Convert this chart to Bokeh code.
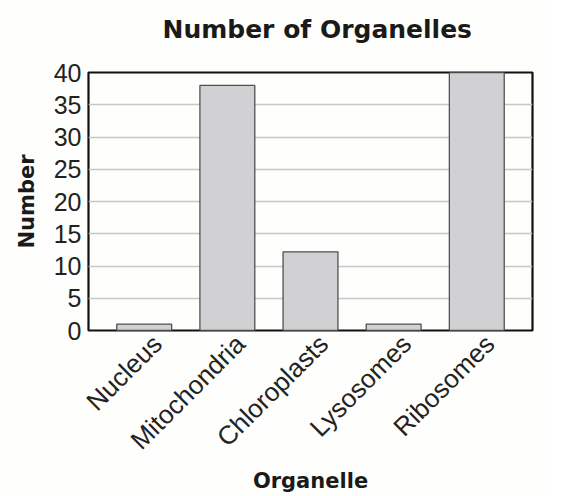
from bokeh.plotting import figure
from bokeh.models import Range1d, ColumnDataSource, FixedTicker, LinearAxis
from bokeh.embed import file_html
from bokeh.resources import INLINE
import math

categories = ["Nucleus", "Mitochondria", "Chloroplasts", "Lysosomes", "Ribosomes"]
counts = [1, 38, 12.2, 1, 40]
y_ticks = [0, 5, 10, 15, 20, 25, 30, 35, 40]
chart_title = "Number of Organelles"

idx = list(range(len(categories)))
src = ColumnDataSource(dict(pos=idx, cat=categories, n=counts))

PAD = 0.67      # distance from outer bar centres to the frame edge (category units)
SHIFT = 0.157   # rightward nudge of rotated category labels (category units)

BG = "#fefefc"
p = figure(
    x_range=Range1d(-PAD, len(categories) - 1 + PAD),
    y_range=Range1d(0, 40),
    frame_width=444, frame_height=258,
    min_border_left=88, min_border_right=19, min_border_top=72, min_border_bottom=150,
    output_backend="svg", toolbar_location=None,
    title=chart_title + "\n",   # blank second line lifts the title away from the frame
    background_fill_color=BG, border_fill_color=BG,
)

p.vbar(x="pos", top="n", width=0.66, source=src,
       fill_color="#d1d1d3", line_color="#505050", line_width=1.3)

p.title.text_font = "DejaVu Sans"
p.title.text_font_style = "bold"
p.title.text_font_size = "25px"
p.title.text_color = "#1a1a1a"
p.title.align = "left"
p.title.offset = 74
p.title.vertical_align = "bottom"
p.title.standoff = 0

p.outline_line_color = "#111111"
p.outline_line_width = 2.2

p.xgrid.grid_line_color = None
p.ygrid.grid_line_color = "#c6c6c6"
p.ygrid.grid_line_width = 1.6
p.yaxis.ticker = FixedTicker(ticks=y_ticks)
p.xaxis.visible = False

# label axis: index positions, nudged right like the original's rotated labels
p.extra_x_ranges = {"lab": Range1d(-PAD - SHIFT, len(categories) - 1 + PAD - SHIFT)}
lab_axis = LinearAxis(x_range_name="lab", ticker=FixedTicker(ticks=idx),
                      major_label_overrides={i: c for i, c in zip(idx, categories)})
p.add_layout(lab_axis, "below")

for ax in (lab_axis, p.yaxis[0]):
    ax.axis_line_color = None
    ax.major_tick_line_color = None
    ax.minor_tick_line_color = None
    ax.major_tick_in = 0
    ax.major_tick_out = 0
    ax.minor_tick_out = 0
    ax.minor_tick_in = 0
    ax.major_label_text_font = "Liberation Sans"
    ax.major_label_text_font_size = "25px"
    ax.major_label_text_color = "#222222"
    ax.axis_label_text_font = "DejaVu Sans"
    ax.axis_label_text_font_style = "bold"
    ax.axis_label_text_font_size = "21px"
    ax.axis_label_text_color = "#1a1a1a"

lab_axis.major_label_text_font_size = "26px"
lab_axis.major_label_orientation = math.pi / 4
lab_axis.major_label_standoff = 9
lab_axis.axis_label = "Organelle"
lab_axis.axis_label_standoff = 0
p.yaxis.axis_label = "Number"
p.yaxis.major_label_standoff = 7
p.yaxis.axis_label_standoff = 12

open("out.html", "w").write(file_html(p, INLINE))
